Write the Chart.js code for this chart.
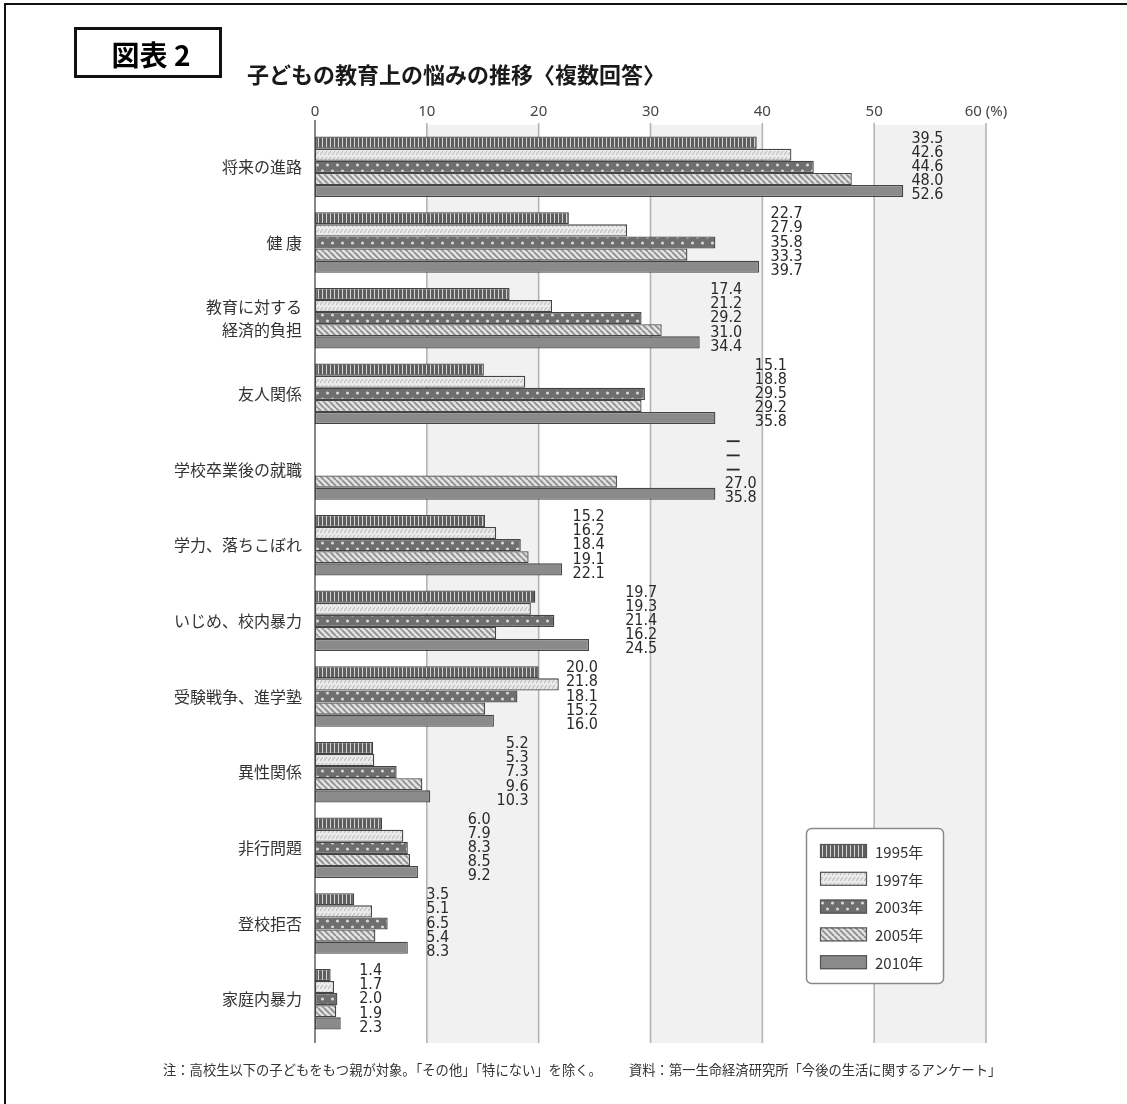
<!DOCTYPE html>
<html>
<head>
<meta charset="utf-8">
<script src="https://cdn.jsdelivr.net/npm/chart.js@4"></script>
<style>
  html, body { margin: 0; padding: 0; background: #fff; }
  #chart { display: block; }
</style>
</head>
<body>
<canvas id="chart" width="1127" height="1104"></canvas>
<script>
// 項目
var categories = ['将来の進路', '健 康', ['教育に対する', '経済的負担'], '友人関係', '学校卒業後の就職',
  '学力、落ちこぼれ', 'いじめ、校内暴力', '受験戦争、進学塾', '異性関係', '非行問題', '登校拒否', '家庭内暴力'];
var years = ['1995年', '1997年', '2003年', '2005年', '2010年'];

// 各年の値（%）、null は「—」
var v1995 = [39.5, 22.7, 17.4, 15.1, null, 15.2, 19.7, 20.0, 5.2, 6.0, 3.5, 1.4];
var v1997 = [42.6, 27.9, 21.2, 18.8, null, 16.2, 19.3, 21.8, 5.3, 7.9, 5.1, 1.7];
var v2003 = [44.6, 35.8, 29.2, 29.5, null, 18.4, 21.4, 18.1, 7.3, 8.3, 6.5, 2.0];
var v2005 = [48.0, 33.3, 31.0, 29.2, 27.0, 19.1, 16.2, 15.2, 9.6, 8.5, 5.4, 1.9];
var v2010 = [52.6, 39.7, 34.4, 35.8, 35.8, 22.1, 24.5, 16.0, 10.3, 9.2, 8.3, 2.3];

// 目盛り
var xTicks = [0, 10, 20, 30, 40, 50, 60];

// 数値ラベル列の右端（目盛りの値で指定）
var labelRight = [56.2, 43.6, 38.2, 42.2, 39.5, 25.9, 30.6, 25.3, 19.1, 15.7, 12.0, 6.0];

var canvas = document.getElementById('chart');
var ctx = canvas.getContext('2d');

function makePattern(w, h, draw) {
  var c = document.createElement('canvas');
  c.width = w; c.height = h;
  draw(c.getContext('2d'), w, h);
  return ctx.createPattern(c, 'repeat');
}

// 年ごとの模様
var fills = [
  makePattern(4, 4, function(g) {            // 縦じま
    g.fillStyle = '#5e5e5e'; g.fillRect(0, 0, 4, 4);
    g.fillStyle = '#d4d4d4'; g.fillRect(2, 0, 1, 4);
  }),
  makePattern(8, 6, function(g) {            // 薄い斜めの点線
    g.fillStyle = '#ebebeb'; g.fillRect(0, 0, 8, 6);
    g.strokeStyle = '#bdbdbd'; g.lineWidth = 1.2;
    g.beginPath(); g.moveTo(0, 5); g.lineTo(3, 1); g.moveTo(4, 5); g.lineTo(7, 1); g.stroke();
  }),
  makePattern(10, 12, function(g) {          // 水玉
    g.fillStyle = '#6e6e6e'; g.fillRect(0, 0, 10, 12);
    g.fillStyle = '#d6d6d6';
    g.beginPath(); g.arc(2.5, 3, 1.6, 0, Math.PI * 2); g.arc(7.5, 9, 1.6, 0, Math.PI * 2); g.fill();
  }),
  makePattern(6, 6, function(g) {            // 斜線
    g.fillStyle = '#e2e2e2'; g.fillRect(0, 0, 6, 6);
    g.strokeStyle = '#8e8e8e'; g.lineWidth = 1.8;
    g.beginPath();
    [-6, 0, 6].forEach(function(k) { g.moveTo(k, 0); g.lineTo(k + 6, 6); });
    g.stroke();
  }),
  '#8a8a8a'                                  // 塗りつぶし
];

var seriesValues = [v1995, v1997, v2003, v2005, v2010];

var datasets = years.map(function(y, i) {
  return {
    label: y,
    data: seriesValues[i],
    backgroundColor: fills[i],
    borderColor: '#444',
    borderWidth: 1.3,
    borderSkipped: false,
    categoryPercentage: 0.8,
    barPercentage: 1.0
  };
});

// 背景の帯・目盛り線・タイトルなど
var framePlugin = {
  id: 'frame',
  beforeDraw: function(chart) {
    var c = chart.ctx, xs = chart.scales.x, area = chart.chartArea;
    c.save();
    c.fillStyle = '#fff';
    c.fillRect(0, 0, chart.width, chart.height);
    var top = area.top - 4, bottom = area.bottom + 6;
    // 帯（10-20, 30-40, 50-60）
    c.fillStyle = '#f1f1f1';
    for (var k = 1; k < xTicks.length - 1; k += 2) {
      var a = xs.getPixelForValue(xTicks[k]), b = xs.getPixelForValue(xTicks[k + 1]);
      c.fillRect(a, top, b - a, bottom - top);
    }
    // 目盛り線
    xTicks.forEach(function(t) {
      var px = xs.getPixelForValue(t);
      c.strokeStyle = t === 0 ? '#6a6a6a' : '#b4b4b4';
      c.lineWidth = 1.6;
      c.beginPath();
      c.moveTo(px, t === 0 ? area.top - 9 : area.top - 6);
      c.lineTo(px, bottom);
      c.stroke();
    });

    // 外枠
    c.strokeStyle = '#111';
    c.lineWidth = 2;
    c.beginPath();
    c.moveTo(5, chart.height); c.lineTo(5, 4); c.lineTo(chart.width, 4);
    c.stroke();

    // 図表2 の枠
    c.lineWidth = 3;
    c.strokeRect(75.5, 28.5, 145, 48);
    c.fillStyle = '#000';
    c.font = 'bold 28px "Noto Sans CJK JP"';
    c.textAlign = 'center';
    c.textBaseline = 'middle';
    c.fillText('図表 2', 151, 55);

    // タイトル
    c.textAlign = 'left';
    c.font = 'bold 22px "Noto Sans CJK JP"';
    c.fillStyle = '#1a1a1a';
    c.fillText('子どもの教育上の悩みの推移〈複数回答〉', 247, 75);

    // 注・資料
    c.font = '13.3px "Noto Sans CJK JP"';
    c.fillStyle = '#333';
    c.fillText('注：高校生以下の子どもをもつ親が対象。「その他」「特にない」を除く。', 163, 1070);
    c.fillText('資料：第一生命経済研究所「今後の生活に関するアンケート」', 629, 1070);
    c.restore();
  },
  afterDatasetsDraw: function(chart) {
    var c = chart.ctx, xs = chart.scales.x, ys = chart.scales.y;
    c.save();
    c.fillStyle = '#2a2a2a';
    c.textBaseline = 'middle';
    c.font = '16px "DejaVu Sans"';
    var sx = 0.9;
    var step = 14.2;
    var colWidth = c.measureText('00.0').width * sx;
    categories.forEach(function(cat, i) {
      var xr = xs.getPixelForValue(labelRight[i]);
      var cy = ys.getPixelForValue(i);
      seriesValues.forEach(function(vals, j) {
        var ly = cy + (j - 2) * step;
        var v = vals[i];
        c.save();
        if (v === null) {
          c.translate(xr - colWidth + 2, ly);
          c.fillRect(0, -0.8, 13, 1.8);
        } else {
          c.translate(xr, ly);
          c.scale(sx, 1);
          c.textAlign = 'right';
          c.fillText(v.toFixed(1), 0, 0);
        }
        c.restore();
      });
    });
    c.restore();
  },
  afterDraw: function(chart) {
    // 凡例
    var c = chart.ctx;
    var lx = 806, ly = 828, lw = 137, lh = 155;
    c.save();
    c.fillStyle = '#fff';
    c.strokeStyle = '#8a8a8a';
    c.lineWidth = 1.5;
    c.beginPath();
    c.roundRect(lx + 0.5, ly + 0.5, lw, lh, 5);
    c.fill();
    c.stroke();
    c.font = '15px "Noto Sans CJK JP"';
    c.textBaseline = 'middle';
    c.textAlign = 'left';
    years.forEach(function(y, i) {
      var cy = ly + 23 + i * 27.8;
      c.fillStyle = fills[i];
      c.fillRect(lx + 14, cy - 7, 47, 14);
      c.strokeStyle = '#555';
      c.lineWidth = 1.2;
      c.strokeRect(lx + 14.5, cy - 6.5, 46, 13);
      c.fillStyle = '#333';
      c.fillText(y, lx + 69, cy + 1);
    });
    c.restore();
  }
};

new Chart(ctx, {
  type: 'bar',
  data: { labels: categories, datasets: datasets },
  options: {
    indexAxis: 'y',
    responsive: false,
    animation: false,
    events: [],
    layout: { padding: { left: 0, right: 141, top: 0, bottom: 67 } },
    plugins: {
      legend: { display: false },
      tooltip: { enabled: false }
    },
    scales: {
      x: {
        position: 'top',
        min: 0,
        max: 60,
        afterFit: function(s) { s.height = 129; },
        afterBuildTicks: function(s) { s.ticks = xTicks.map(function(v) { return { value: v }; }); },
        ticks: {
          color: '#444',
          font: { family: 'Noto Sans', size: 15 },
          padding: 8,
          maxRotation: 0,
          callback: function(v) { return v === 60 ? '60 (%)' : String(v); }
        },
        grid: { display: false, drawTicks: false },
        border: { display: false }
      },
      y: {
        afterFit: function(s) { s.width = 315; },
        ticks: {
          color: '#333',
          font: { family: 'Noto Sans CJK JP', size: 16, lineHeight: 1.45 },
          padding: 13
        },
        grid: { display: false, drawTicks: false },
        border: { display: false }
      }
    }
  },
  plugins: [framePlugin]
});
</script>
</body>
</html>
